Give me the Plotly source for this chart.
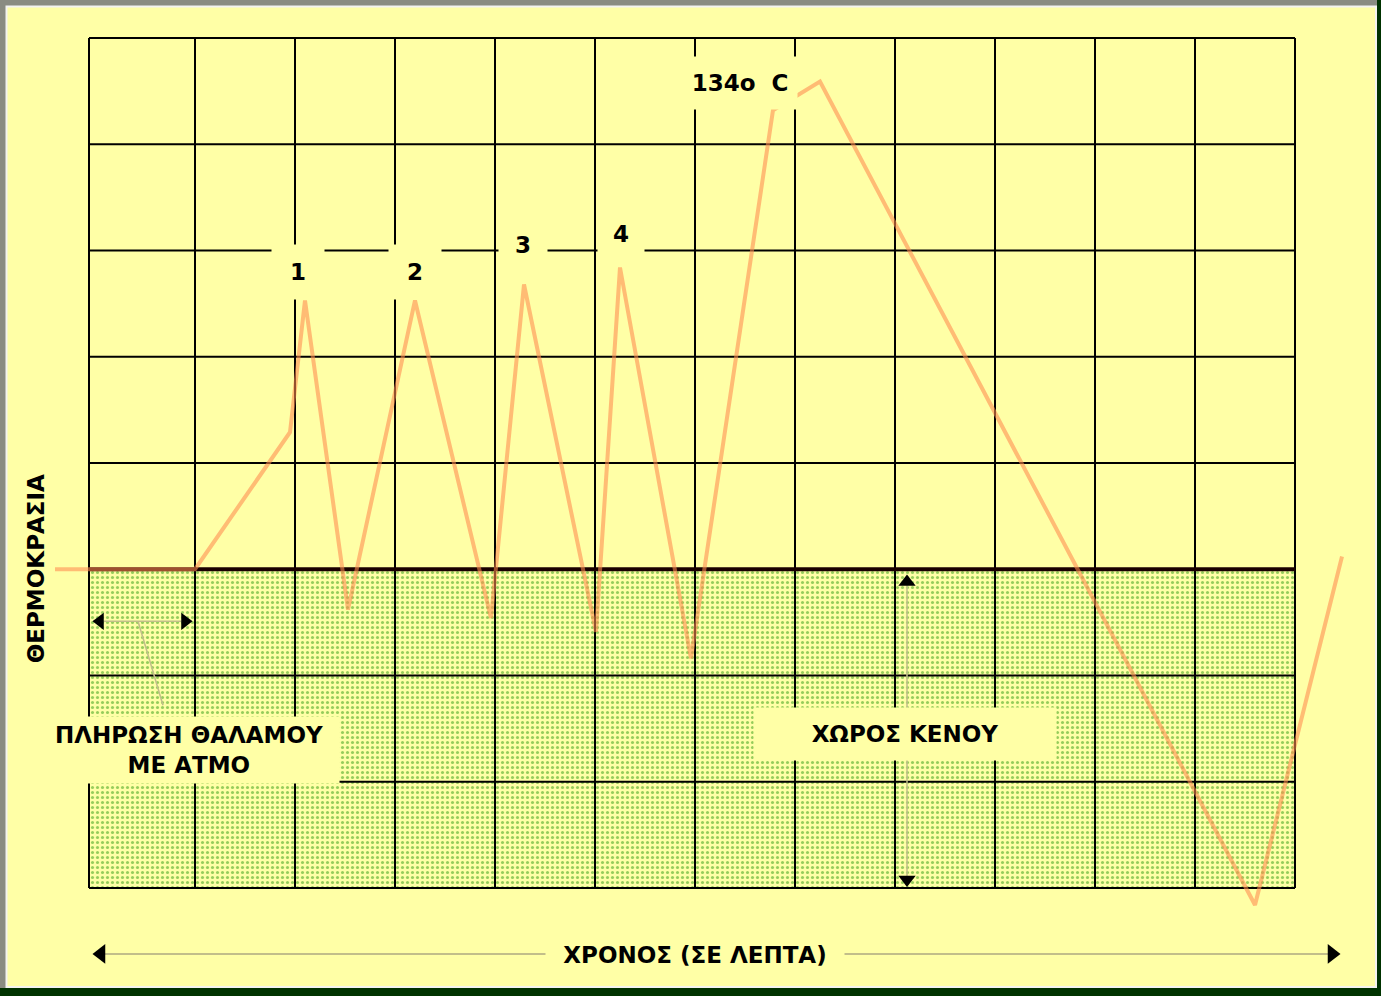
import plotly.graph_objects as go

# ---- data (x: time in grid columns, y: temperature in grid rows) ----
time_pts = [-0.40, 1.00, 1.95, 2.10, 2.53, 3.20, 3.96, 4.29, 5.01, 5.25, 5.96, 6.78, 7.25, 11.60, 12.47]
temp_pts = [3.00, 3.00, 4.29, 5.53, 2.62, 5.53, 2.54, 5.68, 2.41, 5.84, 2.16, 7.32, 7.59, -0.16, 3.12]

grid_cols = [-0.06, 1, 2, 3, 4, 5, 6, 7, 8, 9, 10, 11, 12]
grid_rows = [0, 1, 2, 3, 4, 5, 6, 7, 8]
vacuum_rows = [0, 3]

peak_labels = ["1", "2", "3", "4", "134o\u00a0\u00a0C"]
peak_label_x = [2.03, 3.20, 4.28, 5.26, 6.45]
peak_label_y = [5.80, 5.80, 6.05, 6.16, 7.58]
peak_box_w = [50, 50, 46, 44, 112]
peak_box_h = [52, 52, 40, 46, 50]

YELLOW = "#FFFFA6"
FONT = "DejaVu Sans, Verdana, sans-serif"
FS = 23

fig = go.Figure()

# vacuum zone (dotted green)
c0, c1 = grid_cols[0], grid_cols[-1]
r0, r1 = vacuum_rows
fig.add_trace(go.Scatter(
    x=[c0, c1, c1, c0, c0], y=[r0, r0, r1, r1, r0],
    mode="lines", line=dict(width=0), fill="toself",
    fillcolor=YELLOW,
    fillpattern=dict(shape=".", bgcolor=YELLOW, fgcolor="#2E9A10", size=5, solidity=0.3),
    hoverinfo="skip", showlegend=False))

# grid
gx, gy = [], []
for c in grid_cols:
    gx += [c, c, None]; gy += [grid_rows[0], grid_rows[-1], None]
for r in grid_rows:
    gx += [grid_cols[0], grid_cols[-1], None]; gy += [r, r, None]
fig.add_trace(go.Scatter(x=gx, y=gy, mode="lines", line=dict(color="black", width=2),
                         hoverinfo="skip", showlegend=False))
fig.add_trace(go.Scatter(x=[grid_cols[0], grid_cols[-1]], y=[3, 3], mode="lines",
                         line=dict(color="#1a0000", width=4), hoverinfo="skip", showlegend=False))

# thin guide lines with arrowheads
guide = "#C2BE8A"
fig.add_trace(go.Scatter(x=[-0.02, 0.97], y=[2.51, 2.51], mode="lines", line=dict(color=guide, width=1.5),
                         hoverinfo="skip", showlegend=False))
fig.add_trace(go.Scatter(x=[0.43, 0.68], y=[2.51, 1.72], mode="lines", line=dict(color=guide, width=1.5),
                         hoverinfo="skip", showlegend=False))
fig.add_trace(go.Scatter(x=[8.12, 8.12], y=[2.9, 0.1], mode="lines", line=dict(color=guide, width=1.5),
                         hoverinfo="skip", showlegend=False))
fig.add_trace(go.Scatter(x=[0.0, 12.4], y=[-0.62, -0.62], mode="lines", line=dict(color=guide, width=2),
                         hoverinfo="skip", showlegend=False))

fig.add_trace(go.Scatter(x=[0.05, 0.90], y=[2.51, 2.51], mode="markers",
                         marker=dict(symbol=["triangle-left", "triangle-right"], size=15, color="black"),
                         hoverinfo="skip", showlegend=False))
fig.add_trace(go.Scatter(x=[8.12, 8.12], y=[2.88, 0.08], mode="markers",
                         marker=dict(symbol=["triangle-up", "triangle-down"], size=15, color="black"),
                         hoverinfo="skip", showlegend=False))
fig.add_trace(go.Scatter(x=[0.06, 12.37], y=[-0.62, -0.62], mode="markers",
                         marker=dict(symbol=["triangle-left", "triangle-right"], size=17, color="black"),
                         hoverinfo="skip", showlegend=False))

# temperature curve
fig.add_trace(go.Scatter(x=time_pts, y=temp_pts, mode="lines",
                         line=dict(color="rgba(255,140,80,0.58)", width=4),
                         hoverinfo="skip", showlegend=False))

# labels
for t, x, y, w, h in zip(peak_labels, peak_label_x, peak_label_y, peak_box_w, peak_box_h):
    fig.add_annotation(x=x, y=y, text=f"<b>{t}</b>", showarrow=False, bgcolor=YELLOW,
                       width=w, height=h, font=dict(family=FONT, size=FS, color="black"))

fig.add_annotation(x=0.94, y=1.30, text="<b>ΠΛΗΡΩΣΗ ΘΑΛΑΜΟΥ<br>ΜΕ ΑΤΜΟ</b>", showarrow=False,
                   bgcolor=YELLOW, width=298, height=64, align="center",
                   font=dict(family=FONT, size=FS, color="black"))
fig.add_annotation(x=8.10, y=1.45, text="<b>ΧΩΡΟΣ ΚΕΝΟΥ</b>", showarrow=False,
                   bgcolor=YELLOW, width=300, height=50,
                   font=dict(family=FONT, size=FS, color="black"))
fig.add_annotation(x=6.00, y=-0.63, text="<b>ΧΡΟΝΟΣ (ΣΕ ΛΕΠΤΑ)</b>", showarrow=False,
                   bgcolor=YELLOW, width=296, height=30,
                   font=dict(family=FONT, size=FS, color="black"))
fig.add_annotation(x=-0.59, y=3.0, text="<b>ΘΕΡΜΟΚΡΑΣΙΑ</b>", showarrow=False, textangle=-90,
                   font=dict(family=FONT, size=FS, color="black"))

W, H = 1381, 996
fig.update_layout(
    width=W, height=H, margin=dict(l=0, r=0, t=0, b=0),
    paper_bgcolor="#8A8C82", plot_bgcolor="rgba(0,0,0,0)",
    xaxis=dict(range=[-95 / 100, (W - 95) / 100], visible=False, fixedrange=True),
    yaxis=dict(range=[-(H - 888) / 106.25, 888 / 106.25], visible=False, fixedrange=True),
    shapes=[
        dict(type="rect", xref="paper", yref="paper", x0=0, x1=1, y0=0, y1=8 / H,
             fillcolor="#003300", line=dict(width=0), layer="below"),
        dict(type="rect", xref="paper", yref="paper", x0=1377 / W, x1=1, y0=0, y1=1,
             fillcolor="#003300", line=dict(width=0), layer="below"),
        dict(type="rect", xref="paper", yref="paper", x0=6.5 / W, x1=1376 / W, y0=(H - 987) / H, y1=(H - 6.5) / H,
             fillcolor=YELLOW, line=dict(color="#F4F4F0", width=2), layer="below"),
    ],
)

fig.write_html("out.html", config={"displayModeBar": False},
               post_script="document.body.style.margin='0';document.body.style.overflow='hidden';")
